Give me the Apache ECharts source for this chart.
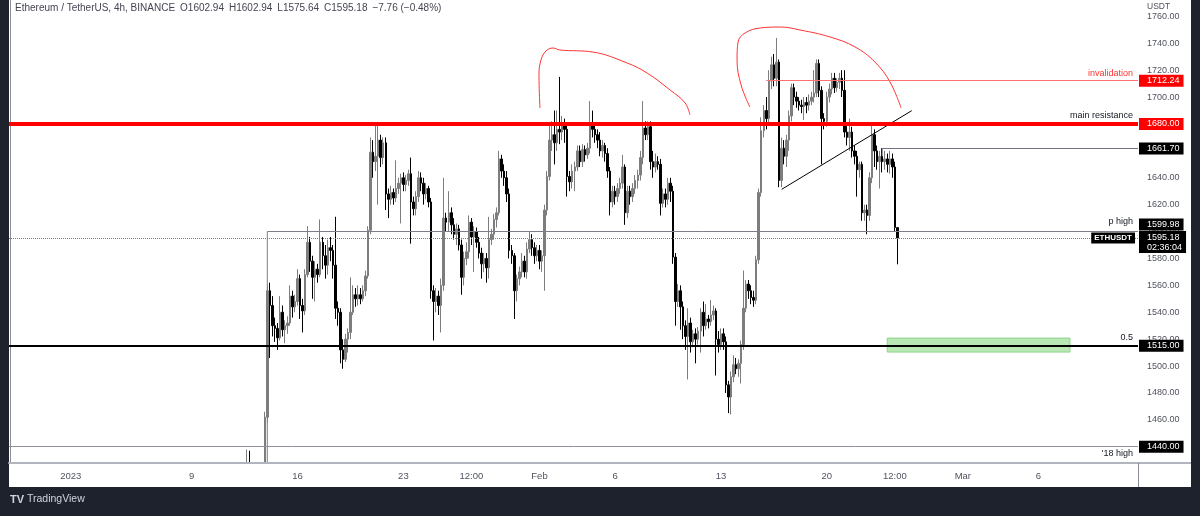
<!DOCTYPE html>
<html>
<head>
<meta charset="utf-8">
<style>
  html, body { margin: 0; padding: 0; background: #1e222d; }
  #panel { position: absolute; left: 9px; top: 0; width: 1182px; height: 487px; background: #fff; }
  #container { position: absolute; left: 0; top: 0; width: 1200px; height: 516px; }
</style>
</head>
<body>
<div id="panel"></div>
<div id="container"></div>
<script src="https://cdn.jsdelivr.net/npm/echarts/dist/echarts.min.js"></script>
<script>
// 4h slots on the time axis, first slot 2022-12-28 00:00 UTC
var slotStart = Date.UTC(2022, 11, 28, 0, 0);
var slotCount = 448;
var firstCandle = '2023-01-12 16:00';

// [open, close, low, high], one row per 4h bar
var ohlc = [
  [1415, 1420, 1405, 1438], [1420, 1418, 1410, 1437], [1418, 1421, 1412, 1426], [1421, 1419, 1413, 1425],
  [1419, 1420, 1414, 1426], [1420, 1423, 1415, 1427], [1423, 1422, 1412, 1426], [1422, 1462, 1420, 1466],
  [1462, 1556, 1458, 1560], [1556, 1545, 1506, 1562], [1545, 1530, 1522, 1552], [1530, 1528, 1518, 1536],
  [1528, 1521, 1512, 1532], [1521, 1540, 1519, 1552], [1540, 1527, 1522, 1545], [1527, 1530, 1517, 1534],
  [1530, 1532, 1524, 1537], [1532, 1552, 1530, 1560], [1552, 1544, 1536, 1556], [1544, 1548, 1540, 1553],
  [1548, 1565, 1545, 1572], [1565, 1545, 1535, 1568], [1545, 1541, 1525, 1550], [1541, 1568, 1538, 1572],
  [1568, 1592, 1566, 1604], [1592, 1578, 1570, 1596], [1578, 1566, 1550, 1582], [1566, 1572, 1548, 1578],
  [1572, 1568, 1562, 1576], [1568, 1592, 1566, 1609], [1592, 1582, 1572, 1596], [1582, 1575, 1565, 1590],
  [1575, 1588, 1568, 1594], [1588, 1586, 1578, 1596], [1586, 1575, 1565, 1590], [1575, 1543, 1535, 1611],
  [1543, 1540, 1530, 1548], [1540, 1512, 1502, 1543], [1512, 1505, 1498, 1520], [1505, 1520, 1503, 1524],
  [1520, 1525, 1510, 1528], [1525, 1540, 1520, 1566], [1540, 1553, 1538, 1560], [1553, 1550, 1544, 1558],
  [1550, 1553, 1545, 1560], [1553, 1550, 1546, 1558], [1550, 1556, 1548, 1560], [1556, 1567, 1552, 1571],
  [1567, 1601, 1565, 1604], [1601, 1659, 1598, 1670], [1659, 1652, 1640, 1668], [1652, 1656, 1645, 1680],
  [1656, 1668, 1620, 1680], [1668, 1655, 1648, 1672], [1655, 1666, 1650, 1670], [1666, 1628, 1616, 1670],
  [1628, 1624, 1610, 1632], [1624, 1629, 1620, 1634], [1629, 1625, 1620, 1632], [1625, 1632, 1622, 1653],
  [1632, 1636, 1628, 1640], [1636, 1640, 1606, 1643], [1640, 1635, 1630, 1644], [1635, 1638, 1630, 1642],
  [1638, 1643, 1634, 1646], [1643, 1622, 1591, 1655], [1622, 1617, 1612, 1626], [1617, 1626, 1612, 1630],
  [1626, 1640, 1622, 1645], [1640, 1636, 1630, 1644], [1636, 1628, 1620, 1640], [1628, 1632, 1624, 1636],
  [1632, 1622, 1618, 1634], [1622, 1556, 1550, 1625], [1556, 1548, 1519, 1560], [1548, 1552, 1540, 1558],
  [1552, 1545, 1538, 1556], [1545, 1560, 1525, 1565], [1560, 1610, 1556, 1640], [1610, 1607, 1600, 1614],
  [1607, 1614, 1600, 1630], [1614, 1605, 1598, 1618], [1605, 1598, 1594, 1610], [1598, 1602, 1590, 1606],
  [1602, 1590, 1586, 1605], [1590, 1566, 1553, 1594], [1566, 1580, 1560, 1585], [1580, 1585, 1575, 1592],
  [1585, 1607, 1580, 1612], [1607, 1596, 1590, 1610], [1596, 1600, 1570, 1604], [1600, 1592, 1588, 1603],
  [1592, 1584, 1580, 1596], [1584, 1576, 1565, 1588], [1576, 1580, 1570, 1584], [1580, 1573, 1562, 1584],
  [1573, 1594, 1565, 1611], [1594, 1598, 1590, 1602], [1598, 1609, 1594, 1613], [1609, 1614, 1603, 1618],
  [1614, 1654, 1612, 1660], [1654, 1645, 1640, 1657], [1645, 1640, 1634, 1650], [1640, 1628, 1622, 1645],
  [1628, 1586, 1580, 1632], [1586, 1582, 1576, 1590], [1582, 1556, 1535, 1584], [1556, 1565, 1548, 1568],
  [1565, 1570, 1560, 1574], [1570, 1578, 1566, 1584], [1578, 1570, 1566, 1582], [1570, 1587, 1565, 1592],
  [1587, 1594, 1584, 1600], [1594, 1588, 1582, 1598], [1588, 1582, 1576, 1592], [1582, 1586, 1578, 1590],
  [1586, 1578, 1572, 1590], [1578, 1582, 1570, 1586], [1582, 1616, 1556, 1620], [1616, 1641, 1612, 1645],
  [1641, 1668, 1638, 1680], [1668, 1672, 1660, 1682], [1672, 1666, 1650, 1690], [1666, 1676, 1660, 1690],
  [1676, 1674, 1665, 1715], [1674, 1680, 1668, 1686], [1680, 1676, 1666, 1684], [1676, 1641, 1626, 1680],
  [1641, 1637, 1630, 1645], [1637, 1645, 1632, 1650], [1645, 1648, 1630, 1652], [1648, 1660, 1645, 1664],
  [1660, 1652, 1648, 1664], [1652, 1661, 1648, 1665], [1661, 1657, 1652, 1664], [1657, 1662, 1654, 1666],
  [1662, 1680, 1658, 1697], [1680, 1676, 1670, 1690], [1676, 1672, 1666, 1680], [1672, 1668, 1662, 1676],
  [1668, 1660, 1656, 1674], [1660, 1664, 1655, 1668], [1664, 1658, 1652, 1666], [1658, 1645, 1640, 1662],
  [1645, 1622, 1612, 1648], [1622, 1630, 1618, 1634], [1630, 1626, 1620, 1634], [1626, 1632, 1622, 1636],
  [1632, 1636, 1628, 1640], [1636, 1648, 1632, 1657], [1648, 1614, 1605, 1650], [1614, 1630, 1610, 1634],
  [1630, 1626, 1620, 1634], [1626, 1632, 1622, 1636], [1632, 1638, 1628, 1642], [1638, 1642, 1632, 1646],
  [1642, 1655, 1638, 1660], [1655, 1677, 1650, 1697], [1677, 1672, 1668, 1682], [1672, 1678, 1668, 1682],
  [1678, 1652, 1646, 1682], [1652, 1648, 1640, 1660], [1648, 1652, 1644, 1658], [1652, 1650, 1646, 1656],
  [1650, 1621, 1612, 1654], [1621, 1628, 1618, 1632], [1628, 1624, 1618, 1632], [1624, 1636, 1620, 1640],
  [1636, 1630, 1622, 1640], [1630, 1581, 1576, 1634], [1581, 1548, 1530, 1584], [1548, 1556, 1544, 1561],
  [1556, 1544, 1527, 1560], [1544, 1530, 1520, 1548], [1530, 1522, 1512, 1534], [1522, 1532, 1490, 1543],
  [1532, 1518, 1510, 1536], [1518, 1524, 1514, 1527], [1524, 1520, 1502, 1528], [1520, 1526, 1516, 1529],
  [1526, 1540, 1510, 1543], [1540, 1530, 1522, 1548], [1530, 1535, 1527, 1546], [1535, 1533, 1528, 1538],
  [1533, 1538, 1530, 1549], [1538, 1541, 1534, 1545], [1541, 1520, 1493, 1543], [1520, 1516, 1510, 1526],
  [1516, 1524, 1512, 1528], [1524, 1518, 1512, 1528], [1518, 1486, 1480, 1522], [1486, 1477, 1465, 1489],
  [1477, 1492, 1464, 1496], [1492, 1501, 1488, 1508], [1501, 1498, 1494, 1506], [1498, 1502, 1492, 1505],
  [1502, 1516, 1487, 1519], [1516, 1543, 1512, 1571], [1543, 1561, 1540, 1564], [1561, 1556, 1550, 1564],
  [1556, 1551, 1546, 1560], [1551, 1549, 1544, 1556], [1549, 1579, 1546, 1582], [1579, 1629, 1576, 1632],
  [1629, 1675, 1626, 1685], [1675, 1690, 1670, 1694], [1690, 1684, 1676, 1700], [1684, 1712, 1680, 1720],
  [1712, 1724, 1706, 1730], [1724, 1714, 1708, 1732], [1714, 1726, 1708, 1744], [1726, 1638, 1633, 1728],
  [1638, 1662, 1633, 1670], [1662, 1656, 1650, 1668], [1656, 1668, 1648, 1672], [1668, 1686, 1660, 1690],
  [1686, 1707, 1682, 1710], [1707, 1700, 1694, 1710], [1700, 1697, 1692, 1704], [1697, 1694, 1690, 1700],
  [1694, 1693, 1688, 1698], [1693, 1696, 1683, 1700], [1696, 1694, 1688, 1700], [1694, 1697, 1690, 1702],
  [1697, 1700, 1694, 1704], [1700, 1703, 1696, 1720], [1703, 1725, 1700, 1728], [1725, 1705, 1700, 1728],
  [1705, 1684, 1650, 1708], [1684, 1682, 1676, 1688], [1682, 1700, 1678, 1704], [1700, 1706, 1696, 1710],
  [1706, 1714, 1702, 1718], [1714, 1707, 1703, 1718], [1707, 1711, 1704, 1714], [1711, 1714, 1706, 1718],
  [1714, 1705, 1700, 1720], [1705, 1674, 1670, 1720], [1674, 1670, 1664, 1680], [1670, 1674, 1660, 1684],
  [1674, 1660, 1655, 1678], [1660, 1656, 1650, 1664], [1656, 1646, 1626, 1660], [1646, 1650, 1640, 1652],
  [1650, 1614, 1608, 1652], [1614, 1616, 1608, 1620], [1616, 1612, 1598, 1620], [1612, 1640, 1608, 1644],
  [1640, 1672, 1636, 1679], [1672, 1660, 1648, 1676], [1660, 1652, 1646, 1664], [1652, 1656, 1632, 1660],
  [1656, 1652, 1644, 1662], [1652, 1654, 1646, 1660], [1654, 1650, 1644, 1658], [1650, 1654, 1643, 1660],
  [1654, 1648, 1640, 1658], [1648, 1603, 1600, 1652], [1602.94, 1595.18, 1575.64, 1602.94]
];

var timeTicks = [
  ['2023-01-01 00:00', '2023'], ['2023-01-09 00:00', '9'], ['2023-01-16 00:00', '16'],
  ['2023-01-23 00:00', '23'], ['2023-01-27 12:00', '12:00'], ['2023-02-01 00:00', 'Feb'],
  ['2023-02-06 00:00', '6'], ['2023-02-13 00:00', '13'], ['2023-02-20 00:00', '20'],
  ['2023-02-24 12:00', '12:00'], ['2023-03-01 00:00', 'Mar'], ['2023-03-06 00:00', '6']
];

// price levels drawn on the chart
var yMin = 1427.9, yMax = 1772.2;
var invalidation = 1712.24;
var resistance = 1680;
var lastHigh = 1661.70;
var prevHigh = 1599.98;
var lastPrice = 1595.18;
var halfLevel = 1515;
var high2018 = 1440;

// drawings, x in bar slots
var invalidationFrom = 300;
var lastHighFrom = 346;
var prevHighFrom = 102;
var targetZone = [[348, 1520.8], [420.5, 1510.4]];
var trendLine = [[306.1, 1631.4], [357.7, 1689.9]];
var leftArc = [[210.2, 1691.9], [209.8, 1716.4], [210.6, 1727.6], [212.6, 1734.3], [215.4, 1736.5],
  [218.1, 1735], [231.2, 1733.5], [244.7, 1725.4], [252.7, 1717.9], [261.8, 1705.3], [267.8, 1695.6], [269.7, 1686.7]];
var rightArc = [[293.5, 1692.6], [290, 1709], [288.4, 1727.6], [288.8, 1741], [291.6, 1747.7], [297.6, 1751.4],
  [305.5, 1752.1], [313.4, 1749.9], [325.3, 1744.7], [335.2, 1737.3], [343.1, 1726.1], [349.1, 1711.2], [353.5, 1691.9]];

function p2(n) { return (n < 10 ? '0' : '') + n; }
var categories = [];
for (var i = 0; i < slotCount; i++) {
  var d = new Date(slotStart + i * 4 * 3600 * 1000);
  categories.push(d.getUTCFullYear() + '-' + p2(d.getUTCMonth() + 1) + '-' + p2(d.getUTCDate()) + ' ' + p2(d.getUTCHours()) + ':00');
}
var tickText = {};
timeTicks.forEach(function (t) { tickText[t[0]] = t[1]; });

var first = categories.indexOf(firstCandle);
var candleData = ohlc.map(function (r, k) {
  return [categories[first + k], r[0], r[1], r[2], r[3]];
});
var rightEnd = slotCount - 0.5;

var FONT = 'Arial, "Liberation Sans", sans-serif';
function box(text, bg, dy) {
  return {
    show: true, position: 'end', distance: 1, formatter: text,
    color: '#fff', backgroundColor: bg, fontSize: 9, fontFamily: FONT,
    padding: [1, 4, 1, 8], lineHeight: 10, offset: [0, dy || 0]
  };
}
function tag(text, color, pos, dist) {
  return { show: true, position: pos, distance: dist, formatter: text, color: color, fontSize: 9, fontFamily: FONT };
}
var none = { color: 'transparent', width: 0 };

var dom = document.getElementById('container');
var myChart = echarts.init(dom);

var option = {
  animation: false,
  grid: { left: 9, top: 0, width: 1129, height: 463 },
  xAxis: [{
    type: 'category',
    data: categories,
    boundaryGap: true,
    z: 20,
    axisLine: { lineStyle: { color: '#b2b5be', width: 2 } },
    axisTick: { show: false },
    splitLine: { show: false },
    axisLabel: {
      interval: function (idx, val) { return tickText[val] !== undefined; },
      formatter: function (val) { return tickText[val]; },
      color: '#50535e', fontSize: 9.5, fontFamily: FONT, margin: 8
    }
  }, {
    type: 'value', min: -0.5, max: rightEnd, show: false
  }],
  yAxis: {
    type: 'value',
    position: 'right',
    min: yMin, max: yMax,
    splitNumber: 17,
    axisLine: { show: true, lineStyle: { color: '#8a8d96', width: 1 } },
    axisTick: { show: false },
    splitLine: { show: false },
    axisLabel: {
      formatter: function (v) { return v.toFixed(2); },
      color: '#50535e', fontSize: 9, fontFamily: FONT, margin: 9,
      showMinLabel: false, showMaxLabel: false
    }
  },
  series: [{
    type: 'candlestick',
    data: candleData,
    encode: { x: 0, y: [1, 2, 3, 4] },
    barWidth: 2,
    clip: true,
    itemStyle: { color: '#7d7d7d', color0: '#000', borderColor: '#7d7d7d', borderColor0: '#000', borderWidth: 1 },
    z: 2
  }, {
    type: 'line',
    xAxisIndex: 1,
    data: trendLine,
    symbol: 'none',
    lineStyle: { color: '#000', width: 1 },
    z: 4,
    markArea: {
      silent: true,
      itemStyle: { color: '#b9e8b4', borderColor: '#8fd48a', borderWidth: 1 },
      data: [[{ coord: targetZone[0] }, { coord: targetZone[1] }]]
    },
    markLine: {
      silent: true,
      symbol: ['none', 'none'],
      data: [
        [{ coord: [invalidationFrom, invalidation], lineStyle: { color: '#ff7070', width: 1, type: 'solid' },
           label: tag('invalidation', '#ff3030', 'insideEndTop', [5, 3]) }, { coord: [rightEnd, invalidation] }],
        [{ coord: [invalidationFrom, invalidation], lineStyle: none, label: box('1712.24', '#ff0000') },
         { coord: [rightEnd, invalidation] }],
        { yAxis: resistance, lineStyle: { color: '#ff0000', width: 4, type: 'solid' },
          label: tag('main resistance', '#131722', 'insideEndTop', [5, 4]) },
        { yAxis: resistance, lineStyle: none, label: box('1680.00', '#ff0000') },
        [{ coord: [lastHighFrom, lastHigh], lineStyle: { color: '#6f7280', width: 1, type: 'solid' },
           label: box('1661.70', '#000') }, { coord: [rightEnd, lastHigh] }],
        [{ coord: [prevHighFrom, prevHigh], lineStyle: { color: '#7b7e87', width: 1, type: 'solid' },
           label: tag('p high', '#131722', 'insideEndTop', [5, 6]) }, { coord: [rightEnd, prevHigh] }],
        [{ coord: [prevHighFrom, prevHigh], lineStyle: none, label: box('1599.98', '#000', -7) },
         { coord: [rightEnd, prevHigh] }],
        { yAxis: lastPrice, lineStyle: { color: '#787b86', width: 1, type: 'dotted' },
          label: { show: true, position: 'insideEnd', distance: 3, formatter: 'ETHUSDT', color: '#fff',
                   backgroundColor: '#000', fontSize: 8, fontWeight: 'bold', fontFamily: FONT, padding: [2, 3, 1, 3] } },
        { yAxis: lastPrice, lineStyle: none, label: box('1595.18\n02:36:04', '#000', 4) },
        { yAxis: halfLevel, lineStyle: { color: '#000', width: 2, type: 'solid' },
          label: tag('0.5', '#131722', 'insideEndTop', [5, 4]) },
        { yAxis: halfLevel, lineStyle: none, label: box('1515.00', '#000') },
        { yAxis: high2018, lineStyle: { color: '#8f9299', width: 1, type: 'solid' },
          label: tag("'18 high", '#131722', 'insideEndBottom', [5, 2]) },
        { yAxis: high2018, lineStyle: none, label: box('1440.00', '#000') }
      ]
    }
  }, {
    type: 'line', xAxisIndex: 1, data: leftArc, smooth: 0.4, symbol: 'none',
    lineStyle: { color: '#ff3333', width: 1 }, z: 4
  }, {
    type: 'line', xAxisIndex: 1, data: rightArc, smooth: 0.4, symbol: 'none',
    lineStyle: { color: '#ff3333', width: 1 }, z: 4
  }, {
    type: 'line', xAxisIndex: 1, data: [[prevHighFrom, yMin], [prevHighFrom, prevHigh]], symbol: 'none',
    lineStyle: { color: '#7b7e87', width: 1 }, z: 3
  }, {
    type: 'line', xAxisIndex: 1, data: [[lastHighFrom, 1656.5], [lastHighFrom, lastHigh]], symbol: 'none',
    lineStyle: { color: '#6f7280', width: 1 }, z: 3
  }],
  graphic: [
    // cover candle parts that spill under the plot bottom
    { type: 'rect', shape: { x: 9, y: 464, width: 1182, height: 23 }, style: { fill: '#fff' }, z: 10 },
    { type: 'rect', shape: { x: 0, y: 487, width: 1200, height: 29 }, style: { fill: '#1e222d' }, z: 10 },
    { type: 'text', left: 15, top: 3, z: 10,
      style: { text: 'Ethereum / TetherUS, 4h, BINANCE\u2002O1602.94\u2002H1602.94\u2002L1575.64\u2002C1595.18\u2002\u22127.76 (\u22120.48%)',
               font: '10px ' + FONT, fill: '#434651' } },
    { type: 'rect', shape: { x: 1139, y: 0, width: 51, height: 13 }, style: { fill: '#fff' }, z: 10 },
    { type: 'text', left: 1147, top: 2, z: 11, style: { text: 'USDT', font: '8.5px ' + FONT, fill: '#50535e' } },
    { type: 'line', shape: { x1: 1138, y1: 463, x2: 1191, y2: 463 }, style: { stroke: '#b2b5be', lineWidth: 2 }, z: 21 },
    { type: 'line', shape: { x1: 1138.5, y1: 463, x2: 1138.5, y2: 487 }, style: { stroke: '#8a8d96', lineWidth: 1 }, z: 21 },
    { type: 'text', left: 10, top: 494, z: 11, style: { text: 'TV', font: 'bold 11px ' + FONT, fill: '#d1d4dc' } },
    { type: 'text', left: 27, top: 494, z: 11, style: { text: 'TradingView', font: '10.5px ' + FONT, fill: '#d1d4dc' } }
  ]
};

if (option && typeof option === 'object') {
  myChart.setOption(option, true);
}
</script>
</body>
</html>
